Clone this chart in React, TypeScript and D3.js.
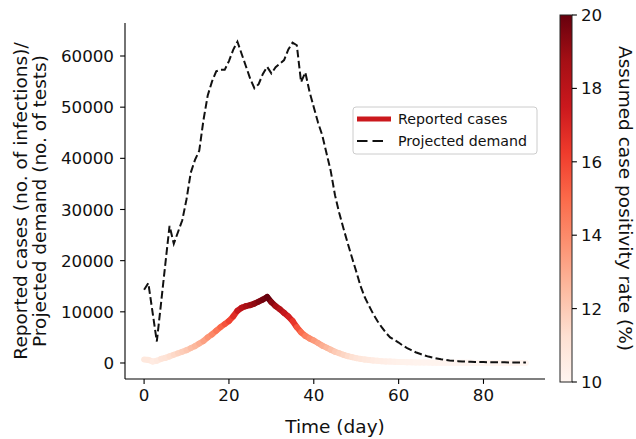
import React from 'react';
import * as d3 from 'd3';

// ---- data (daily, day 0..90) ----
const reportedCases = [
  700, 600, 300, 450, 800, 1000, 1300, 1600, 1900, 2200,
  2500, 2900, 3300, 3800, 4300, 5000, 5600, 6300, 7000, 7600,
  8200, 9100, 10200, 10800, 11100, 11300, 11600, 12000, 12400, 12900,
  11900, 11100, 10500, 9800, 9100, 8200, 7000, 6000, 5300, 4800,
  4400, 3900, 3400, 3000, 2600, 2200, 1900, 1600, 1350, 1150,
  950, 800, 680, 580, 490, 420, 360, 310, 270, 230,
  200, 175, 150, 130, 115, 100, 88, 77, 68, 60,
  53, 47, 42, 37, 33, 29, 26, 23, 21, 19,
  17, 15, 14, 13, 12, 11, 10, 9, 8, 8, 7,
];

const projectedDemand = [
  14300, 15600, 9900, 4200, 11700, 19300, 26800, 23300, 25600, 27900,
  32000, 37200, 39700, 41500, 47500, 52300, 55000, 57000, 57300, 57300,
  59000, 61200, 62800, 60400, 58000, 55600, 53700, 54500, 56500, 57900,
  56600, 57800, 58500, 59200, 61300, 62600, 62100, 54900, 56800, 53000,
  50000, 47000, 44500, 41000, 37500, 32800, 29300, 26300, 23400, 20600,
  17900, 15100, 12900, 11200, 9600, 8200, 7000, 5900, 5000, 4500,
  4000, 3400, 2900, 2500, 2100, 1800, 1500, 1250, 1050, 880,
  720, 600, 500, 420, 360, 310, 270, 240, 215, 195,
  180, 165, 152, 142, 133, 125, 118, 112, 107, 103, 100,
];

const positivityRate = [
  10.8, 10.8, 10.6, 10.7, 11.0, 11.1, 11.3, 11.5, 11.7, 11.9,
  12.1, 12.4, 12.6, 12.9, 13.3, 13.7, 14.1, 14.6, 15.1, 15.6,
  16.1, 16.8, 17.6, 18.2, 18.6, 18.9, 19.2, 19.5, 19.8, 20.0,
  19.3, 18.7, 18.2, 17.7, 17.2, 16.5, 15.6, 14.9, 14.3, 13.9,
  13.5, 13.2, 12.9, 12.6, 12.3, 12.0, 11.8, 11.6, 11.4, 11.2,
  11.0, 10.9, 10.8, 10.7, 10.6, 10.5, 10.45, 10.4, 10.35, 10.3,
  10.25, 10.2, 10.18, 10.16, 10.14, 10.12, 10.1, 10.09, 10.08, 10.07,
  10.06, 10.05, 10.05, 10.04, 10.04, 10.03, 10.03, 10.02, 10.02, 10.02,
  10.01, 10.01, 10.01, 10.01, 10.0, 10.0, 10.0, 10.0, 10.0, 10.0, 10.0,
];

const xTicks = [0, 20, 40, 60, 80];
const yTicks = [0, 10000, 20000, 30000, 40000, 50000, 60000];
const cbTicks = [10, 12, 14, 16, 18, 20];
const legendLabels = ['Reported cases', 'Projected demand'];
const xLabel = 'Time (day)';
const yLabelLines = ['Reported cases (no. of infections)/', 'Projected demand (no. of tests)'];
const cbLabel = 'Assumed case positivity rate (%)';

const FONT = 'DejaVu Sans, sans-serif';

export default function App() {
  const W = 636, H = 439;
  const left = 125, right = 545, top = 23, bottom = 379;
  const x = d3.scaleLinear().domain([-4.5, 94.5]).range([left, right]);
  const y = d3.scaleLinear().domain([-3130, 66450]).range([bottom, top]);

  const reds = d3.schemeReds[9];
  const color = d3
    .scaleLinear<string>()
    .domain(d3.range(9).map((i) => 10 + i * 1.25))
    .range(reds as string[])
    .interpolate(d3.interpolateRgb)
    .clamp(true);

  const cbX = 560, cbW = 12, cbTop = 15, cbBottom = 382;
  const cbScale = d3.scaleLinear().domain([10, 20]).range([cbBottom, cbTop]);

  const casePts: [number, number][] = reportedCases.map((v, i) => [x(i), y(v)]);
  const demandLine = d3
    .line<number>()
    .x((_, i) => x(i))
    .y((d) => y(d))(projectedDemand) as string;

  const tickFs = 16.7;
  const labelFs = 18.5;
  const legFs = 14.2;

  return (
    <svg
      width={W}
      height={H}
      style={{ position: 'absolute', left: 0, top: 0, background: '#fff' }}
      fontFamily={FONT}
    >
      <defs>
        <linearGradient id="cbgrad" x1="0" y1="1" x2="0" y2="0">
          {reds.map((c, i) => (
            <stop key={i} offset={i / 8} stopColor={c} />
          ))}
        </linearGradient>
      </defs>
      <rect width={W} height={H} fill="#fff" />

      {/* reported cases coloured by positivity */}
      <g>
        {casePts.slice(0, -1).map((p, i) => (
          <line
            key={i}
            x1={p[0]}
            y1={p[1]}
            x2={casePts[i + 1][0]}
            y2={casePts[i + 1][1]}
            stroke={color(positivityRate[i])}
            strokeWidth={6}
            strokeLinecap="round"
          />
        ))}
      </g>

      {/* projected demand */}
      <path d={demandLine} fill="none" stroke="#111" strokeWidth={2} strokeDasharray="7.7 3.3" />

      {/* axes spines */}
      <line x1={left} x2={left} y1={top} y2={bottom} stroke="#000" strokeWidth={1.1} />
      <line x1={left} x2={right} y1={bottom} y2={bottom} stroke="#000" strokeWidth={1.1} />

      {/* y ticks */}
      {yTicks.map((t) => (
        <g key={t}>
          <line x1={left - 4.9} x2={left} y1={y(t)} y2={y(t)} stroke="#000" strokeWidth={1.1} />
          <text x={left - 11} y={y(t)} dy="0.36em" textAnchor="end" fontSize={tickFs} fill="#111">
            {t}
          </text>
        </g>
      ))}

      {/* x ticks */}
      {xTicks.map((t) => (
        <g key={t}>
          <line x1={x(t)} x2={x(t)} y1={bottom} y2={bottom + 4.9} stroke="#000" strokeWidth={1.1} />
          <text x={x(t)} y={bottom + 9} dy="0.76em" textAnchor="middle" fontSize={tickFs} fill="#111">
            {t}
          </text>
        </g>
      ))}

      {/* axis labels */}
      <text x={(left + right) / 2} y={433} textAnchor="middle" fontSize={labelFs} fill="#111">
        {xLabel}
      </text>
      {yLabelLines.map((s, i) => (
        <text
          key={i}
          transform={`translate(${20 + i * 19},${(top + bottom) / 2}) rotate(-90)`}
          textAnchor="middle"
          dominantBaseline="central"
          fontSize={labelFs}
          fill="#111"
        >
          {s}
        </text>
      ))}

      {/* legend */}
      <g>
        <rect x={353} y={107} width={184} height={47} rx={3} fill="#fff" fillOpacity={0.8} stroke="#ccc" strokeWidth={1} />
        <line x1={357} x2={391} y1={119} y2={119} stroke={color(17.5)} strokeWidth={5} />
        <text x={398} y={119} dy="0.36em" fontSize={legFs} fill="#111">
          {legendLabels[0]}
        </text>
        <line x1={357} x2={385} y1={141} y2={141} stroke="#111" strokeWidth={2} strokeDasharray="10.5 5" />
        <text x={398} y={141} dy="0.36em" fontSize={legFs} fill="#111">
          {legendLabels[1]}
        </text>
      </g>

      {/* colorbar */}
      <rect x={cbX} y={cbTop} width={cbW} height={cbBottom - cbTop} fill="url(#cbgrad)" stroke="#222" strokeWidth={1} />
      {cbTicks.map((t) => (
        <g key={t}>
          <line x1={cbX + cbW} x2={cbX + cbW + 4.9} y1={cbScale(t)} y2={cbScale(t)} stroke="#000" strokeWidth={1.1} />
          <text x={cbX + cbW + 9} y={cbScale(t)} dy="0.36em" fontSize={tickFs} fill="#111">
            {t}
          </text>
        </g>
      ))}
      <text
        transform={`translate(625,${(cbTop + cbBottom) / 2}) rotate(90)`}
        textAnchor="middle"
        dominantBaseline="central"
        fontSize={labelFs}
        fill="#111"
      >
        {cbLabel}
      </text>
    </svg>
  );
}
